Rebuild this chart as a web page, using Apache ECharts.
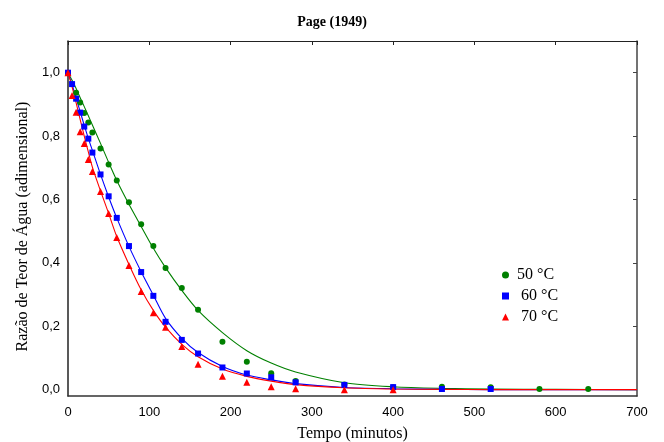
<!DOCTYPE html>
<html>
<head>
<meta charset="utf-8">
<script src="https://cdn.jsdelivr.net/npm/echarts@6/dist/echarts.min.js"></script>
<style>
html,body{margin:0;padding:0;background:#fff;}
#chart{width:664px;height:442px;}
</style>
</head>
<body>
<div id="chart"></div>
<script>
// ---- data ----
const titleText = 'Page (1949)';
const xName = 'Tempo (minutos)';
const yName = 'Razão de Teor de Água (adimensional)';
const seriesNames = ['50 °C', ' 60 °C', ' 70 °C'];

const xTicks = [0, 100, 200, 300, 400, 500, 600, 700];
const yTicks = [0, 0.2, 0.4, 0.6, 0.8, 1.0];

// measured points
const t50 = [0, 10, 15, 20, 25, 30, 40, 50, 60, 75, 90, 105, 120, 140, 160, 190, 220, 250, 280, 340, 400, 460, 520, 580, 640];
const mr50 = [1.0, 0.937, 0.906, 0.873, 0.843, 0.811, 0.761, 0.710, 0.660, 0.591, 0.522, 0.453, 0.384, 0.321, 0.252, 0.151, 0.088, 0.052, 0.027, 0.016, 0.008, 0.009, 0.008, 0.002, 0.002];

const t60 = [0, 5, 10, 15, 20, 25, 30, 40, 50, 60, 75, 90, 105, 120, 140, 160, 190, 220, 250, 280, 340, 400, 460, 520];
const mr60 = [1.0, 0.964, 0.918, 0.874, 0.830, 0.792, 0.748, 0.679, 0.610, 0.542, 0.453, 0.371, 0.296, 0.214, 0.157, 0.114, 0.070, 0.051, 0.039, 0.023, 0.015, 0.008, 0.002, 0.002];

const t70 = [0, 5, 10, 15, 20, 25, 30, 40, 50, 60, 75, 90, 105, 120, 140, 160, 190, 220, 250, 280, 340, 400];
const mr70 = [1.0, 0.928, 0.875, 0.814, 0.777, 0.726, 0.688, 0.625, 0.556, 0.480, 0.392, 0.310, 0.243, 0.197, 0.136, 0.080, 0.042, 0.023, 0.009, 0.003, 0.0, 0.0];

// fitted curves
const curveT = [0, 5, 10, 15, 20, 25, 30, 40, 50, 60, 75, 90, 105, 120, 140, 160, 190, 220, 250, 280, 340, 400, 460, 520, 600, 700];
const curve50 = [1.0, 0.976, 0.950, 0.921, 0.893, 0.864, 0.835, 0.777, 0.717, 0.660, 0.585, 0.515, 0.446, 0.385, 0.313, 0.250, 0.180, 0.123, 0.084, 0.056, 0.022, 0.009, 0.004, 0.002, 0.001, 0.0];
const curve60 = [1.0, 0.962, 0.920, 0.877, 0.834, 0.793, 0.755, 0.679, 0.608, 0.542, 0.452, 0.372, 0.298, 0.225, 0.162, 0.117, 0.073, 0.046, 0.031, 0.019, 0.007, 0.003, 0.001, 0.0, 0.0, 0.0];
const curve70 = [1.0, 0.955, 0.905, 0.852, 0.800, 0.750, 0.702, 0.627, 0.556, 0.483, 0.395, 0.315, 0.250, 0.197, 0.143, 0.104, 0.065, 0.042, 0.027, 0.016, 0.006, 0.002, 0.001, 0.0, 0.0, 0.0];

const colors = ['#008000', '#0000ff', '#ff0000'];
const symbols = ['circle', 'rect', 'triangle'];

function zip(a, b) { return a.map((v, i) => [v, b[i]]); }
const fmt = v => v.toFixed(1).replace('.', ',');

const chart = echarts.init(document.getElementById('chart'), null, {renderer: 'canvas'});

const pointSets = [[t50, mr50], [t60, mr60], [t70, mr70]];
const curveSets = [curve50, curve60, curve70];

const series = [];
curveSets.forEach((c, i) => {
  series.push({
    type: 'line', name: 'curve' + i, data: zip(curveT, c), smooth: 0.3,
    showSymbol: false, symbol: 'none', silent: true,
    lineStyle: {color: colors[i], width: 1.1}, itemStyle: {color: colors[i]},
    z: 2 + i
  });
});
pointSets.forEach((p, i) => {
  series.push({
    type: 'scatter', name: seriesNames[i], data: zip(p[0], p[1]),
    symbol: symbols[i], symbolSize: i === 2 ? 7 : 6,
    itemStyle: {color: colors[i], opacity: 1}, z: 10
  });
});

chart.setOption({
  animation: false,
  backgroundColor: '#fff',
  title: {
    text: titleText, left: 'center', top: 10,
    textStyle: {fontFamily: 'Liberation Serif', fontWeight: 'bold', fontSize: 14, color: '#000'}
  },
  legend: {
    orient: 'vertical', left: 497, top: 262, itemWidth: 7, itemHeight: 7, itemGap: 5,
    data: seriesNames,
    textStyle: {fontFamily: 'Liberation Serif', fontSize: 16, color: '#000', padding: [0, 0, 0, 3]}
  },
  grid: {left: 68, right: 27, top: 41, bottom: 46, containLabel: false, outerBoundsMode: 'none'},
  xAxis: [{
    type: 'value', min: 0, max: 700, interval: 100, position: 'bottom',
    name: xName, nameLocation: 'middle', nameGap: 30,
    nameTextStyle: {fontFamily: 'Liberation Serif', fontSize: 16, color: '#000'},
    axisLine: {show: true, onZero: false, lineStyle: {color: '#333', width: 1.5}},
    axisTick: {show: false},
    axisLabel: {fontFamily: 'Liberation Sans', fontSize: 13, color: '#000', margin: 10},
    splitLine: {show: false}
  }, {
    type: 'value', min: 0, max: 700, interval: 100, position: 'top',
    axisLine: {show: true, onZero: false, lineStyle: {color: '#222', width: 1.2}},
    axisTick: {show: true, inside: true, length: 4, lineStyle: {color: '#222'}},
    axisLabel: {show: false}, splitLine: {show: false}
  }],
  yAxis: [{
    type: 'value', min: -0.02, max: 1.1, position: 'left',
    name: yName, nameLocation: 'middle', nameGap: 37, nameRotate: 90,
    nameTextStyle: {fontFamily: 'Liberation Serif', fontSize: 16, color: '#000', padding: [0, 16, 0, 0]},
    axisLine: {show: true, onZero: false, lineStyle: {color: '#222', width: 1.5}},
    axisTick: {show: false, customValues: yTicks},
    axisLabel: {customValues: yTicks, formatter: fmt, fontFamily: 'Liberation Sans', fontSize: 13, color: '#000', margin: 8},
    splitLine: {show: false}
  }, {
    type: 'value', min: -0.02, max: 1.1, position: 'right',
    axisLine: {show: true, onZero: false, lineStyle: {color: '#444', width: 1.5}},
    axisTick: {show: true, inside: true, length: 4, customValues: yTicks, lineStyle: {color: '#444'}},
    axisLabel: {show: false, customValues: yTicks}, splitLine: {show: false}
  }],
  series: series
});
</script>
</body>
</html>
